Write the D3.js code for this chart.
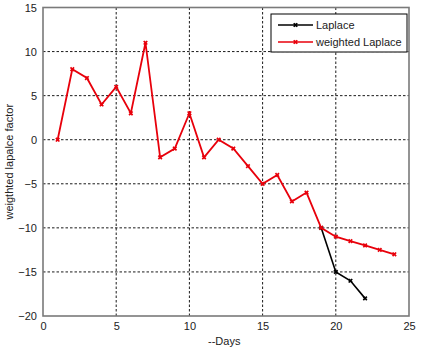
<!DOCTYPE html>
<html>
<head>
<meta charset="utf-8">
<script src="https://cdn.jsdelivr.net/npm/d3@7"></script>
<style>
body { margin: 0; background: #fff; }
text { font-family: Arial, "Liberation Sans", sans-serif; }
</style>
</head>
<body>
<div id="chart"></div>
<script>
// values
var days = [1, 2, 3, 4, 5, 6, 7, 8, 9, 10, 11, 12, 13, 14, 15, 16, 17, 18, 19, 20, 21, 22, 23, 24];
var weighted = [0, 8, 7, 4, 6, 3, 11, -2, -1, 3, -2, 0, -1, -3, -5, -4, -7, -6, -10, -11, -11.5, -12, -12.5, -13];
var laplaceDays = [19, 20, 21, 22];
var laplace = [-10, -15, -16, -18];
var xTicks = [0, 5, 10, 15, 20, 25];
var yTicks = [-20, -15, -10, -5, 0, 5, 10, 15];

var W = 423, H = 351;
var m = {left: 43, right: 14, top: 7.5, bottom: 35};

var svg = d3.select("#chart").append("svg")
    .attr("width", W).attr("height", H);

var x = d3.scaleLinear().domain([0, 25]).range([m.left, W - m.right]);
var y = d3.scaleLinear().domain([-20, 15]).range([H - m.bottom, m.top]);

// grid
var g = svg.append("g");
g.selectAll("line.gx")
    .data(xTicks.slice(1, -1))
    .enter().append("line")
    .attr("x1", d => x(d)).attr("x2", d => x(d))
    .attr("y1", y(15)).attr("y2", y(-20))
    .style("stroke", "#000").style("stroke-width", 0.9)
    .style("stroke-dasharray", "2.5,2");
g.selectAll("line.gy")
    .data(yTicks.slice(1, -1))
    .enter().append("line")
    .attr("x1", x(0)).attr("x2", x(25))
    .attr("y1", d => y(d)).attr("y2", d => y(d))
    .style("stroke", "#000").style("stroke-width", 0.9)
    .style("stroke-dasharray", "2.5,2");

// axes
var xAxis = d3.axisBottom(x).tickValues(xTicks).tickSize(0).tickPadding(6);
var yAxis = d3.axisLeft(y).tickValues(yTicks).tickSize(0).tickPadding(6);
svg.append("g").attr("transform", "translate(0," + y(-20) + ")").call(xAxis)
    .call(s => s.select(".domain").remove())
    .selectAll("text").style("font-size", "11px").style("fill", "#222");
svg.append("g").attr("transform", "translate(" + x(0) + ",0)").call(yAxis)
    .call(s => s.select(".domain").remove())
    .selectAll("text").style("font-size", "11px").style("fill", "#222");

svg.append("rect")
    .attr("x", x(0)).attr("y", y(15))
    .attr("width", x(25) - x(0)).attr("height", y(-20) - y(15))
    .style("fill", "none").style("stroke", "#7a7a7a").style("stroke-width", 1.6);

// series
var line = d3.line().x(d => x(d[0])).y(d => y(d[1]));

function drawSeries(xs, ys, color, width) {
    var pts = xs.map((d, i) => [d, ys[i]]);
    svg.append("path").datum(pts)
        .attr("d", line)
        .style("fill", "none").style("stroke", color).style("stroke-width", width);
    svg.selectAll(null).data(pts).enter().append("path")
        .attr("d", d3.symbol(d3.symbolCross, 14))
        .attr("transform", d => "translate(" + x(d[0]) + "," + y(d[1]) + ") rotate(45)")
        .style("fill", color);
}
drawSeries(laplaceDays, laplace, "#000", 1.6);
drawSeries(days, weighted, "#e8000b", 1.8);

// legend
var lg = svg.append("g").attr("transform", "translate(271,14)");
lg.append("rect").attr("width", 136).attr("height", 38)
    .style("fill", "#fff").style("stroke", "#000").style("stroke-width", 1);
var items = [["Laplace", "#000"], ["weighted Laplace", "#e8000b"]];
items.forEach(function(it, i) {
    var yy = 11 + i * 17;
    lg.append("line").attr("x1", 7).attr("x2", 42).attr("y1", yy).attr("y2", yy)
        .style("stroke", it[1]).style("stroke-width", 1.6);
    lg.append("path").attr("d", d3.symbol(d3.symbolCross, 14))
        .attr("transform", "translate(24.5," + yy + ") rotate(45)")
        .style("fill", it[1]);
    lg.append("text").attr("x", 45).attr("y", yy + 4)
        .style("font-size", "11px").style("fill", "#222").text(it[0]);
});

// labels
svg.append("text")
    .attr("x", 208).attr("y", 345)
    .style("font-size", "11px").style("fill", "#222")
    .text("--Days");
svg.append("text")
    .attr("transform", "translate(13," + ((y(15) + y(-20)) / 2) + ") rotate(-90)")
    .attr("text-anchor", "middle")
    .style("font-size", "11px").style("fill", "#222")
    .text("weigthted lapalce factor");
</script>
</body>
</html>
